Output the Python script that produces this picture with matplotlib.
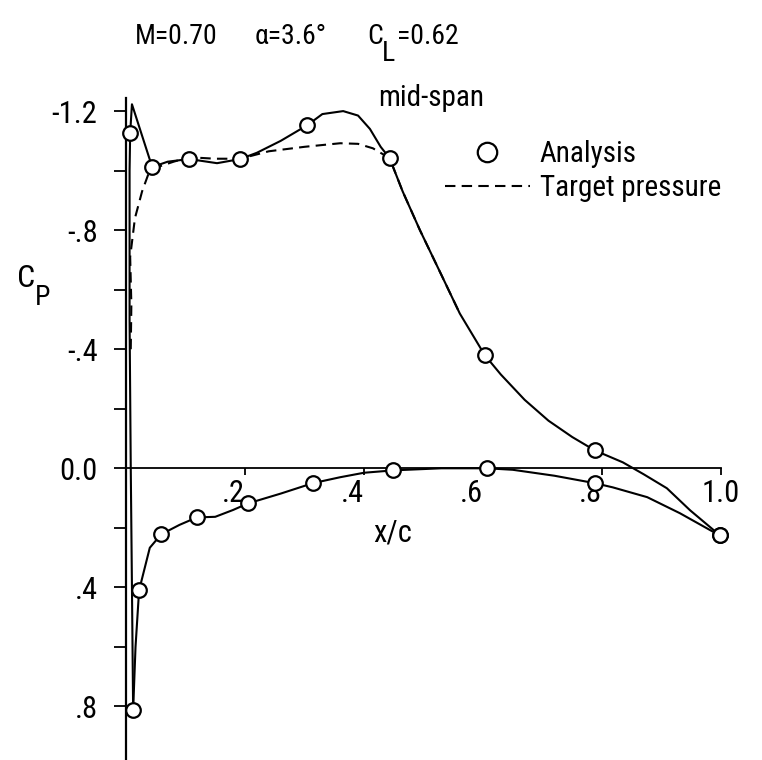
import matplotlib
matplotlib.use('Agg')
import matplotlib.pyplot as plt
from matplotlib.lines import Line2D
from matplotlib import font_manager

names = {f.name for f in font_manager.fontManager.ttflist}
narrow = [n for n in ['Roboto Condensed', 'Liberation Sans Narrow', 'DejaVu Sans Condensed']
          if n in names]
plt.rcParams['font.family'] = narrow + ['Roboto', 'DejaVu Sans']

# analysis points (circles)
upper_x = [0.007, 0.044, 0.106, 0.192, 0.305, 0.443, 0.603, 0.788, 0.998]
upper_cp = [-1.126, -1.012, -1.039, -1.039, -1.153, -1.042, -0.38, -0.06, 0.225]
lower_x = [0.012, 0.022, 0.059, 0.119, 0.205, 0.314, 0.449, 0.607, 0.788, 0.998]
lower_cp = [0.813, 0.41, 0.222, 0.165, 0.118, 0.05, 0.007, 0.0, 0.05, 0.225]

# faired analysis curve, upper surface (starts at stagnation point)
upper_line_x = [0.012, 0.010, 0.008, 0.006, 0.006, 0.007, 0.010, 0.044, 0.07, 0.106,
                0.153, 0.192, 0.22, 0.26, 0.305, 0.33, 0.365, 0.39, 0.41, 0.428, 0.443,
                0.465, 0.494, 0.53, 0.561, 0.603, 0.63, 0.67, 0.71, 0.75, 0.788,
                0.835, 0.87, 0.909, 0.948, 0.998]
upper_line_cp = [0.813, 0.4, 0.0, -0.5, -1.0, -1.126, -1.223, -1.012, -1.03, -1.039,
                 -1.025, -1.039, -1.06, -1.10, -1.153, -1.19, -1.2, -1.185, -1.14, -1.08, -1.042,
                 -0.93, -0.80, -0.65, -0.52, -0.38, -0.315, -0.23, -0.16, -0.105, -0.06,
                 -0.02, 0.02, 0.067, 0.141, 0.225]

# faired analysis curve, lower surface
lower_line_x = [0.012, 0.016, 0.022, 0.04, 0.059, 0.09, 0.119, 0.15, 0.18, 0.205,
                0.26, 0.314, 0.36, 0.40, 0.449, 0.53, 0.607, 0.65, 0.72, 0.788,
                0.818, 0.876, 0.931, 0.982, 0.998]
lower_line_cp = [0.813, 0.6, 0.41, 0.267, 0.222, 0.19, 0.165, 0.163, 0.14, 0.118,
                 0.085, 0.05, 0.03, 0.015, 0.007, 0.0, 0.0, 0.005, 0.025, 0.05,
                 0.064, 0.097, 0.151, 0.208, 0.225]

# target pressure (dashed)
target_x = [0.008, 0.009, 0.007, 0.015, 0.027, 0.037, 0.05, 0.08, 0.106, 0.15,
            0.192, 0.24, 0.30, 0.36, 0.39, 0.415, 0.443, 0.465, 0.494, 0.53, 0.561]
target_cp = [-0.40, -0.55, -0.71, -0.84, -0.93, -0.985, -1.01, -1.03, -1.045, -1.04,
             -1.04, -1.065, -1.08, -1.092, -1.09, -1.075, -1.042, -0.93, -0.80, -0.65, -0.52]

ytick_major = [-1.2, -0.8, -0.4, 0.0, 0.4, 0.8]
ytick_labels = ['-1.2', '-.8', '-.4', '0.0', '.4', '.8']
ytick_minor = [-1.0, -0.6, -0.2, 0.2, 0.6]
xtick_major = [0.2, 0.4, 0.6, 0.8, 1.0]
xtick_labels = ['.2', '.4', '.6', '.8', '1.0']

W, H = 762, 760
fig = plt.figure(figsize=(W / 100, H / 100), dpi=100)
ax = fig.add_axes([126 / W, 0, 595 / W, 662 / H])
ax.set_xlim(0, 1.0)
ax.set_ylim(0.98, -1.244)

lw = 1.5
ax.plot(upper_line_x, upper_line_cp, color='black', lw=lw, clip_on=False)
ax.plot(lower_line_x, lower_line_cp, color='black', lw=lw, clip_on=False)
ax.plot(target_x, target_cp, color='black', lw=lw, dashes=(5, 3), clip_on=False)
ax.plot(upper_x, upper_cp, 'o', ms=10.5, mfc='white', mec='black', mew=1.6, clip_on=False, zorder=5)
ax.plot(lower_x, lower_cp, 'o', ms=10.5, mfc='white', mec='black', mew=1.6, clip_on=False, zorder=5)

# axes through the origin
for s in ['top', 'right']:
    ax.spines[s].set_visible(False)
ax.spines['left'].set_position(('data', 0))
ax.spines['bottom'].set_position(('data', 0))
ax.spines['left'].set_linewidth(1.6)
ax.spines['bottom'].set_linewidth(1.3)
ax.patch.set_visible(False)

ax.set_yticks(ytick_major)
ax.set_yticklabels(ytick_labels)
ax.set_yticks(ytick_minor, minor=True)
ax.tick_params(axis='y', which='both', direction='out', length=8.5, width=1.3,
               pad=12, labelsize=22)
ax.set_xticks(xtick_major)
ax.set_xticklabels(xtick_labels)
ax.tick_params(axis='x', which='both', direction='out', length=5, width=1.3,
               pad=3, labelsize=22)
for lbl in ax.get_xticklabels():
    lbl.set_ha('center' if lbl.get_text() == '1.0' else 'right')

# legend
h_an = Line2D([], [], marker='o', ls='none', ms=14, mfc='white', mec='black', mew=1.6)
h_tp = Line2D([], [], color='black', lw=lw, dashes=(5, 3))
ax.legend([h_an, h_tp], ['Analysis', 'Target pressure'], loc='upper left',
          bbox_to_anchor=((445 - 126) / 595, (760 - 140) / 662), frameon=False,
          fontsize=21, handlelength=2.9, handletextpad=0.35, labelspacing=0.2,
          borderpad=0, borderaxespad=0)

# labels
fig.text(378 / W, 1 - 106 / H, 'mid-span', fontsize=21, va='baseline')
fig.text(373 / W, 1 - 542 / H, 'x/c', fontsize=22, va='baseline')
fig.text(17 / W, 1 - 287 / H, 'C', fontsize=23, va='baseline')
fig.text(35 / W, 1 - 305 / H, 'P', fontsize=20, va='baseline')

# title
fig.text(135 / W, 1 - 44 / H, 'M=0.70', fontsize=20, va='baseline')
fig.text(255 / W, 1 - 44 / H, 'α=3.6°', fontsize=20, va='baseline')
fig.text(367 / W, 1 - 44 / H, 'C', fontsize=20, va='baseline')
fig.text(382 / W, 1 - 61 / H, 'L', fontsize=20, va='baseline')
fig.text(397 / W, 1 - 44 / H, '=0.62', fontsize=20, va='baseline')

fig.savefig('out.png', dpi=100)
